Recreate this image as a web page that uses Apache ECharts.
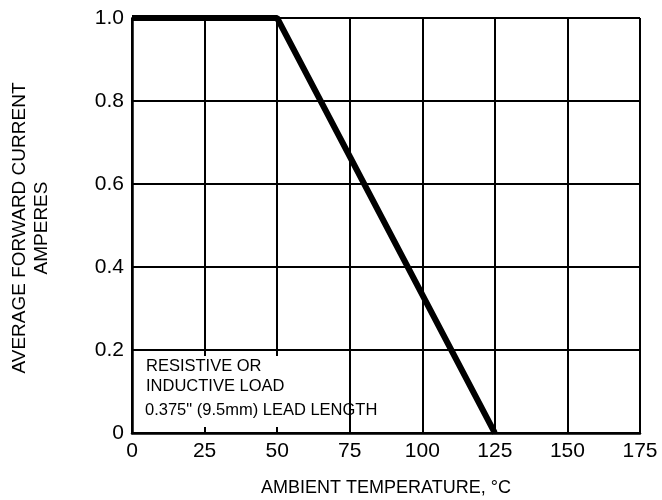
<!DOCTYPE html>
<html>
<head>
<meta charset="utf-8">
<script src="https://cdn.jsdelivr.net/npm/echarts@6/dist/echarts.min.js"></script>
<style>
  html, body { margin: 0; padding: 0; background: #fff; }
  #chart { width: 662px; height: 500px; }
</style>
</head>
<body>
<div id="chart"></div>
<script>
// derating curve: temperature (°C) vs current (A)
const temps = [0, 50, 125];
const current = [1.0, 1.0, 0];
const xTicks = [0, 25, 50, 75, 100, 125, 150, 175];
const yTicks = [0, 0.2, 0.4, 0.6, 0.8, 1.0];
const noteLines = ['RESISTIVE OR', 'INDUCTIVE LOAD', '0.375" (9.5mm) LEAD LENGTH'];

const font = 'Liberation Sans, Arial, Helvetica, sans-serif';
const myChart = echarts.init(document.getElementById('chart'));

const gridAxis = {
  type: 'value',
  position: 'bottom',
  min: xTicks[0],
  max: xTicks[xTicks.length - 1],
  interval: 25
};

const option = {
  animation: false,
  grid: { left: 132, right: 22, top: 18, bottom: 67, outerBoundsMode: 'none' },
  xAxis: [
    {
      ...gridAxis,
      z: 0,
      axisLine: { show: false },
      axisTick: { show: false },
      axisLabel: { show: false },
      splitLine: { show: true, lineStyle: { color: '#000', width: 2 } }
    },
    {
      ...gridAxis,
      z: 5,
      name: 'AMBIENT TEMPERATURE, °C',
      nameLocation: 'middle',
      nameGap: 46,
      nameTextStyle: { color: '#000', fontSize: 18, fontFamily: font },
      axisLine: { show: true, onZero: false, lineStyle: { color: '#000', width: 2.5 } },
      axisTick: { show: true, inside: true, length: 6, lineStyle: { color: '#000', width: 2 } },
      axisLabel: { color: '#000', fontSize: 21, fontFamily: font, margin: 8 },
      splitLine: { show: false }
    }
  ],
  yAxis: {
    type: 'value',
    min: yTicks[0],
    max: yTicks[yTicks.length - 1],
    interval: 0.2,
    axisLine: { show: true, lineStyle: { color: '#000', width: 2.5 } },
    axisTick: { show: false },
    axisLabel: {
      color: '#000', fontSize: 21, fontFamily: font, margin: 8,
      formatter: v => v === 0 ? '0' : v.toFixed(1)
    },
    splitLine: { show: true, lineStyle: { color: '#000', width: 2 } }
  },
  graphic: [
    // white box behind the note, hides grid lines
    { type: 'rect', z: 3, shape: { x: 134, y: 356, width: 210, height: 75 }, style: { fill: '#fff' } },
    { type: 'text', z: 4, x: 146, y: 366, style: { text: noteLines[0], font: '16.5px ' + font, fill: '#000', textVerticalAlign: 'middle' } },
    { type: 'text', z: 4, x: 146, y: 386, style: { text: noteLines[1], font: '16.5px ' + font, fill: '#000', textVerticalAlign: 'middle' } },
    { type: 'text', z: 4, x: 145, y: 410, style: { text: noteLines[2], font: '16.5px ' + font, fill: '#000', textVerticalAlign: 'middle' } },
    // y-axis title, two lines
    { type: 'text', z: 4, x: 20, y: 228, rotation: Math.PI / 2, style: { text: 'AVERAGE FORWARD CURRENT', font: '19px ' + font, fill: '#000', textAlign: 'center', textVerticalAlign: 'middle' } },
    { type: 'text', z: 4, x: 42, y: 228, rotation: Math.PI / 2, style: { text: 'AMPERES', font: '19px ' + font, fill: '#000', textAlign: 'center', textVerticalAlign: 'middle' } }
  ],
  series: [
    {
      type: 'line',
      xAxisIndex: 1,
      z: 6,
      data: temps.map((t, i) => [t, current[i]]),
      showSymbol: false,
      lineStyle: { color: '#000', width: 6 },
      clip: false
    }
  ]
};

myChart.setOption(option);
</script>
</body>
</html>
